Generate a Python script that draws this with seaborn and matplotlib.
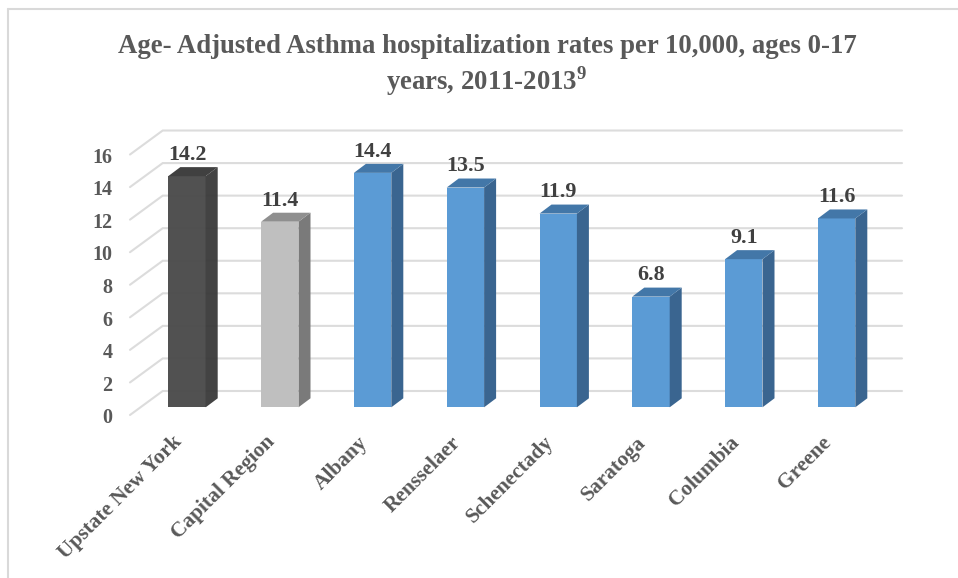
import matplotlib
matplotlib.use('Agg')
import matplotlib.pyplot as plt
from matplotlib.lines import Line2D
from matplotlib.patches import Polygon
from matplotlib.transforms import ScaledTranslation
import seaborn as sns

regions = ['Upstate New York', 'Capital Region', 'Albany', 'Rensselaer',
           'Schenectady', 'Saratoga', 'Columbia', 'Greene']
rates = [14.2, 11.4, 14.4, 13.5, 11.9, 6.8, 9.1, 11.6]
front_colors = ['#4a4a4a', '#bfbfbf'] + ['#5b9bd5'] * 6
side_colors = ['#3b3b3b', '#7a7a7a'] + ['#3a6590'] * 6
top_colors = ['#383838', '#8f8f8f'] + ['#4377a8'] * 6
bar_alpha = [0.96, 1, 1, 1, 1, 1, 1, 1]
y_ticks = [0, 2, 4, 6, 8, 10, 12, 14, 16]
title = 'Age- Adjusted Asthma hospitalization rates per 10,000, ages 0-17\nyears, 2011-2013$^{\\mathbf{9}}$'

sns.set_theme(style='white')
plt.rcParams['font.family'] = ['Liberation Serif']
plt.rcParams['font.weight'] = 'bold'
plt.rcParams['mathtext.fontset'] = 'custom'
plt.rcParams['mathtext.bf'] = 'Liberation Serif:bold'

W, H = 958, 578
fig = plt.figure(figsize=(W / 100, H / 100), dpi=100)

# pixel frame of the front plane of the bars
PX_LEFT, PX_RIGHT = 140.6, 883.0
PX_ZERO = 407.3
PX_UNIT = 16.28
ax = fig.add_axes([PX_LEFT / W, 1 - PX_ZERO / H,
                   (PX_RIGHT - PX_LEFT) / W, 16 * PX_UNIT / H])

sns.barplot(x=regions, y=rates, hue=regions, palette=front_colors, dodge=False,
            width=0.403, legend=False, saturation=1, linewidth=0, ax=ax, zorder=3)
ax.set_xlim(-0.5, 7.5)
ax.set_ylim(0, 16)
sns.despine(ax=ax, left=True, bottom=True, top=True, right=True)

px_x = 8 / (PX_RIGHT - PX_LEFT)  # category units per pixel
px_y = 1 / PX_UNIT               # value units per pixel

# back wall gridlines and the slanted lines on the side wall
for v in y_ticks:
    yb = v + 16.3 * px_y
    yf = v - 7.7 * px_y
    xf = -0.5 - 10.6 * px_x
    xb = -0.5 + 22.1 * px_x
    xr = 7.5 + 19 * px_x
    ax.plot([xf, xb, xr], [yf, yb, yb], color='#dcdcdc', lw=1.5,
            clip_on=False, zorder=1, solid_joinstyle='miter')

# depth of each bar, built from the bar rectangles
dx, dy = 12 * px_x, 9 * px_y
for bar, side, top, a in zip(ax.patches, side_colors, top_colors, bar_alpha):
    bar.set_alpha(a)
    x0, x1 = bar.get_x(), bar.get_x() + bar.get_width()
    h = bar.get_height()
    ax.add_patch(Polygon([(x1, 0), (x1 + dx, dy), (x1 + dx, h + dy), (x1, h)],
                         facecolor=side, edgecolor='none', alpha=a, zorder=3, clip_on=False))
    ax.add_patch(Polygon([(x0, h), (x0 + dx, h + dy), (x1 + dx, h + dy), (x1, h)],
                         facecolor=top, edgecolor='none', alpha=a, zorder=3, clip_on=False))

for container in ax.containers:
    ax.bar_label(container, fmt='%.1f', padding=8, fontsize=15.8, color='#404040',
                 fontweight='bold', zorder=5)

ax.set_yticks(y_ticks)
ax.set_yticklabels([str(v) for v in y_ticks], fontsize=14.5, color='#595959')
ax.tick_params(axis='y', length=0, pad=0)
ax.tick_params(axis='x', length=0, pad=0)
for lab in ax.get_yticklabels():
    lab.set_transform(lab.get_transform() + ScaledTranslation(-28 / 100, -8.5 / 100, fig.dpi_scale_trans))

ax.set_xticks(range(len(regions)))
ax.set_xticklabels(regions, fontsize=15.4, color='#595959', rotation=45,
                   ha='right', va='top', rotation_mode='anchor')
for lab in ax.get_xticklabels():
    lab.set_transform(lab.get_transform() + ScaledTranslation(-15 / 100, -25 / 100, fig.dpi_scale_trans))

fig.text(487 / W, 1 - 66 / H, title, ha='center', va='center', fontsize=19.3,
         color='#595959', fontweight='bold', linespacing=1.17)

# chart frame (left and top only, the picture is cropped on the other sides)
fig.add_artist(Line2D([7.5 / W, 7.5 / W], [0, 1 - 8.7 / H], color='#d9d9d9', lw=1.5))
fig.add_artist(Line2D([7.5 / W, 1], [1 - 8.7 / H, 1 - 8.7 / H], color='#d9d9d9', lw=1.5))

fig.savefig('out.png', dpi=100)
